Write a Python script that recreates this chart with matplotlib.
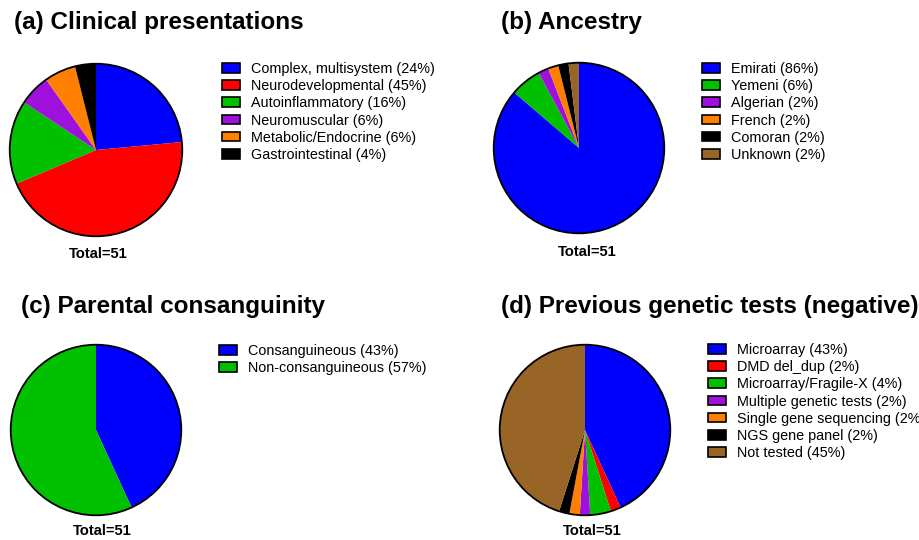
import matplotlib
matplotlib.use("Agg")
import matplotlib.pyplot as plt
from matplotlib.patches import Circle

plt.rcParams['font.family'] = ['Liberation Sans', 'DejaVu Sans']

W, H = 919, 540

# data (counts out of 51)
clin_labels = ["Complex, multisystem (24%)", "Neurodevelopmental (45%)", "Autoinflammatory (16%)",
               "Neuromuscular (6%)", "Metabolic/Endocrine (6%)", "Gastrointestinal (4%)"]
clin_counts = [12, 23, 8, 3, 3, 2]

anc_labels = ["Emirati (86%)", "Yemeni (6%)", "Algerian (2%)", "French (2%)",
              "Comoran (2%)", "Unknown (2%)"]
anc_counts = [44, 3, 1, 1, 1, 1]

cons_labels = ["Consanguineous (43%)", "Non-consanguineous (57%)"]
cons_counts = [22, 29]

test_labels = ["Microarray (43%)", "DMD del_dup (2%)", "Microarray/Fragile-X (4%)",
               "Multiple genetic tests (2%)", "Single gene sequencing (2%)",
               "NGS gene panel (2%)", "Not tested (45%)"]
test_counts = [22, 1, 2, 1, 1, 1, 23]

blue, red, green, purple = "#0000FF", "#FF0000", "#00C000", "#A010DD"
orange, black, brown = "#FF8000", "#000000", "#986526"

clin_colors = [blue, red, green, purple, orange, black]
anc_colors = [blue, green, purple, orange, black, brown]
cons_colors = [blue, green]
test_colors = [blue, red, green, purple, orange, black, brown]

fig = plt.figure(figsize=(W / 100, H / 100), dpi=100)


def panel(title, tx, ty, counts, colors, labels, cx, cy, r, lx, ly, totx, toty):
    ax = fig.add_axes([(cx - r) / W, 1 - (cy + r) / H, 2 * r / W, 2 * r / H])
    wedges, _ = ax.pie(counts, colors=colors, startangle=90, counterclock=False,
                       radius=1, wedgeprops=dict(linewidth=0))
    ax.add_patch(Circle((0, 0), 1, fill=False, edgecolor="black", linewidth=1.3, zorder=5))
    ax.set_xlim(-1.02, 1.02)
    ax.set_ylim(-1.02, 1.02)
    ax.set_aspect("equal")
    ax.axis("off")
    fig.text(tx / W, 1 - ty / H, title, fontsize=17.5, fontweight="bold",
             ha="left", va="center")
    fig.text(totx / W, 1 - toty / H, "Total=51", fontsize=10.6, fontweight="bold",
             ha="center", va="center")
    for w in wedges:
        w.set_edgecolor("black")
    leg = fig.legend(wedges, labels, loc="upper left", bbox_to_anchor=(lx / W, 1 - ly / H),
                     frameon=False, fontsize=10.4, handlelength=1.25, handleheight=0.65,
                     handletextpad=0.75, labelspacing=0.22, borderpad=0, borderaxespad=0)
    for h in leg.legend_handles:
        h.set_linewidth(1.2)
    for w in wedges:
        w.set_linewidth(0)


panel("(a) Clinical presentations", 14, 22, clin_counts, clin_colors, clin_labels,
      96, 150, 88, 222, 62, 98, 254)
panel("(b) Ancestry", 501, 22, anc_counts, anc_colors, anc_labels,
      579, 148, 87, 702, 62, 587, 252)
panel("(c) Parental consanguinity", 21, 306, cons_counts, cons_colors, cons_labels,
      96, 430, 87, 219, 344, 102, 531)
panel("(d) Previous genetic tests (negative)", 501, 306, test_counts, test_colors, test_labels,
      585, 430, 87, 708, 343, 592, 531)

fig.savefig("out.png", dpi=100)
